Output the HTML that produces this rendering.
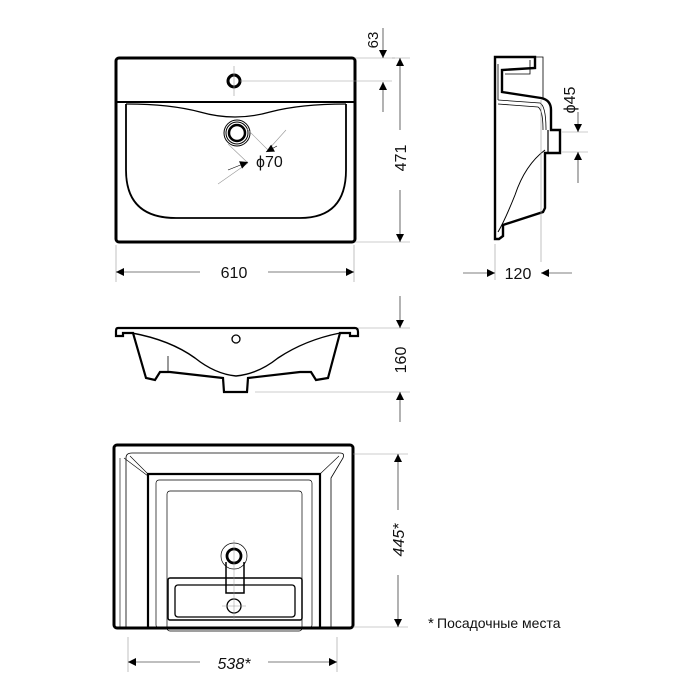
<!DOCTYPE html>
<html><head><meta charset="utf-8"><style>
html,body{margin:0;padding:0;background:#fff}
svg{display:block}
text{font-family:"Liberation Sans","DejaVu Sans",sans-serif;fill:#111}
</style></head><body>
<svg width="700" height="700" viewBox="0 0 700 700" xmlns="http://www.w3.org/2000/svg">
<defs>
<marker id="a" viewBox="0 0 10 10" refX="10" refY="5" markerWidth="13" markerHeight="8" orient="auto" markerUnits="userSpaceOnUse"><path d="M0,0 L10,5 L0,10z" fill="#000"/></marker>
</defs>
<g fill="none" stroke="#000">
<!-- TOP VIEW -->
<rect x="116" y="58" width="239" height="184" rx="3" stroke-width="3"/>
<line x1="117" y1="102" x2="354" y2="102" stroke-width="2"/>
<path d="M126,104 L126,170 Q126,218 176,218 L300,218 Q346,218 346,170 L346,104" stroke-width="1.8"/>
<path d="M126,104 Q170,104 200,112 Q235,122 270,112 Q300,104 346,104" stroke-width="1.3"/>
<circle cx="234" cy="81" r="6" stroke-width="3"/>
<circle cx="237" cy="133" r="13" stroke-width="1"/>
<circle cx="237" cy="133" r="11" stroke-width="1"/>
<circle cx="237" cy="133" r="8" stroke-width="2.5"/>
<g stroke="#999" stroke-width="0.6">
<line x1="234" y1="66" x2="234" y2="96"/><line x1="240" y1="81" x2="392" y2="81"/>
<line x1="355" y1="58" x2="395" y2="58"/>
<line x1="246" y1="128" x2="268" y2="150"/><line x1="228" y1="144" x2="248" y2="163"/>
<line x1="268" y1="150" x2="286" y2="130"/><line x1="248" y1="163" x2="218" y2="184"/>
<line x1="355" y1="242" x2="410" y2="242"/><line x1="392" y1="58" x2="410" y2="58"/>
<line x1="116" y1="245" x2="116" y2="282"/><line x1="354" y1="245" x2="354" y2="282"/>
</g>
<g stroke="#000" stroke-width="0.6">
<line x1="383" y1="28" x2="383" y2="58" marker-end="url(#a)"/>
<line x1="383" y1="112" x2="383" y2="82" marker-end="url(#a)"/>
<line x1="400" y1="130" x2="400" y2="58" marker-end="url(#a)"/>
<line x1="400" y1="190" x2="400" y2="242" marker-end="url(#a)"/>
<line x1="200" y1="272" x2="116" y2="272" marker-end="url(#a)"/>
<line x1="268" y1="272" x2="354" y2="272" marker-end="url(#a)"/>
<line x1="277" y1="146" x2="266" y2="152" marker-end="url(#a)"/>
<line x1="228" y1="170" x2="248" y2="162" marker-end="url(#a)"/>
</g>
<!-- SIDE VIEW -->
<path d="M495,57 L535,57 L535,68 L502,70 L502,92 L541,98 Q551,100 551,110 L551,130 L560,130 L560,153 L545,153 L545,208 L543,212 L503,225 L503,236 L499,239 L495,239 Z" stroke-width="2.4"/>
<path d="M548,130 L548,153" stroke-width="1.2"/>
<path d="M535,57 L543,57 L543,98 M505,74 L530,74 L530,60 M498,64 L498,100" stroke-width="0.8"/>
<path d="M498,100 L540,103 Q546,106 546,130 M498,104 L538,107 Q543,110 543,130" stroke-width="0.8"/>
<path d="M545,150 Q525,165 515,195 Q505,220 498,232" stroke-width="1"/>
<line x1="541" y1="100" x2="541" y2="262" stroke="#999" stroke-width="0.6"/>
<line x1="495" y1="244" x2="495" y2="280" stroke="#999" stroke-width="0.6"/>
<line x1="562" y1="132" x2="588" y2="132" stroke="#999" stroke-width="0.6"/>
<line x1="562" y1="152" x2="588" y2="152" stroke="#999" stroke-width="0.6"/>
<g stroke-width="0.6">
<line x1="463" y1="273" x2="495" y2="273" marker-end="url(#a)"/>
<line x1="572" y1="273" x2="541" y2="273" marker-end="url(#a)"/>
<line x1="578" y1="112" x2="578" y2="132" marker-end="url(#a)"/>
<line x1="578" y1="183" x2="578" y2="152" marker-end="url(#a)"/>
</g>
<!-- FRONT VIEW -->
<path d="M118,328 L355,328 Q358,328 358,332 L358,336 L350,336 L350,333 L340,333 L328,378 L316,380 L311,372 L300,372 L248,378 L247,392 L224,392 L223,378 L170,372 L160,372 L155,380 L146,378 L133,333 L123,333 L123,336 L116,336 L116,331 Q116,328 118,328 Z" stroke-width="2.2"/>
<path d="M132,333 Q170,340 195,358 Q215,374 236,376 Q258,374 278,358 Q305,340 340,333" stroke-width="1.4"/>
<line x1="168" y1="356" x2="168" y2="372" stroke-width="0.8"/>
<circle cx="236" cy="339" r="4" stroke-width="1.3"/>
<line x1="358" y1="328" x2="410" y2="328" stroke="#999" stroke-width="0.6"/>
<line x1="255" y1="392" x2="410" y2="392" stroke="#999" stroke-width="0.6"/>
<g stroke-width="0.6">
<line x1="400" y1="296" x2="400" y2="328" marker-end="url(#a)"/>
<line x1="400" y1="422" x2="400" y2="392" marker-end="url(#a)"/>
</g>
<!-- BOTTOM VIEW -->
<rect x="114" y="445" width="239" height="183" rx="3" stroke-width="3"/>
<path d="M148,628 L148,474 L320,474 L320,628" stroke-width="2.2"/>
<path d="M126,628 L126,458 Q126,453 132,453 L340,453 Q345,453 343,458 L331,478 L331,628" stroke-width="0.8"/>
<path d="M130,456 L148,474 M339,456 L320,474 M120,458 L120,628 M124,458 L148,476" stroke-width="0.6"/>
<rect x="156" y="480" width="156" height="148" rx="3" stroke-width="0.7"/>
<rect x="167" y="491" width="135" height="140" rx="3" stroke-width="0.7"/>
<rect x="168" y="578" width="134" height="42" rx="2" stroke-width="1.5"/>
<rect x="175" y="585" width="120" height="32" rx="3" stroke-width="1.3"/>
<circle cx="234" cy="556" r="13" stroke-width="0.7"/>
<circle cx="234" cy="556" r="7" stroke-width="2.8"/>
<path d="M226,562 L226,593 L244,593 L244,562" stroke-width="1.5"/>
<circle cx="234" cy="606" r="7" stroke-width="1.3"/>
<g stroke="#999" stroke-width="0.5"><line x1="234" y1="540" x2="234" y2="620"/><line x1="222" y1="606" x2="246" y2="606"/></g>
<line x1="353" y1="454" x2="408" y2="454" stroke="#999" stroke-width="0.6"/>
<line x1="353" y1="627" x2="408" y2="627" stroke="#999" stroke-width="0.6"/>
<line x1="128" y1="637" x2="128" y2="672" stroke="#999" stroke-width="0.6"/>
<line x1="337" y1="637" x2="337" y2="672" stroke="#999" stroke-width="0.6"/>
<g stroke-width="0.6">
<line x1="398" y1="510" x2="398" y2="454" marker-end="url(#a)"/>
<line x1="398" y1="575" x2="398" y2="627" marker-end="url(#a)"/>
<line x1="200" y1="662" x2="128" y2="662" marker-end="url(#a)"/>
<line x1="268" y1="662" x2="337" y2="662" marker-end="url(#a)"/>
</g>
</g>
<!-- LABELS -->
<text x="234" y="278" font-size="16" text-anchor="middle">610</text>
<text x="0" y="0" font-size="16" text-anchor="middle" transform="translate(406,158) rotate(-90)">471</text>
<text x="0" y="0" font-size="15" text-anchor="middle" transform="translate(378,40) rotate(-90)">63</text>
<text x="256" y="167" font-size="16">ϕ70</text>
<text x="518" y="279" font-size="16" text-anchor="middle">120</text>
<text x="0" y="0" font-size="16" text-anchor="middle" transform="translate(575,100) rotate(-90)">ϕ45</text>
<text x="0" y="0" font-size="16" text-anchor="middle" transform="translate(406,360) rotate(-90)">160</text>
<text x="0" y="0" font-size="16" font-style="italic" text-anchor="middle" transform="translate(404,540) rotate(-90)">445*</text>
<text x="234" y="669" font-size="16" font-style="italic" text-anchor="middle">538*</text>
<text x="428" y="628" font-size="15">*</text>
<text x="437" y="628" font-size="14">Посадочные места</text>
</svg>
</body></html>
